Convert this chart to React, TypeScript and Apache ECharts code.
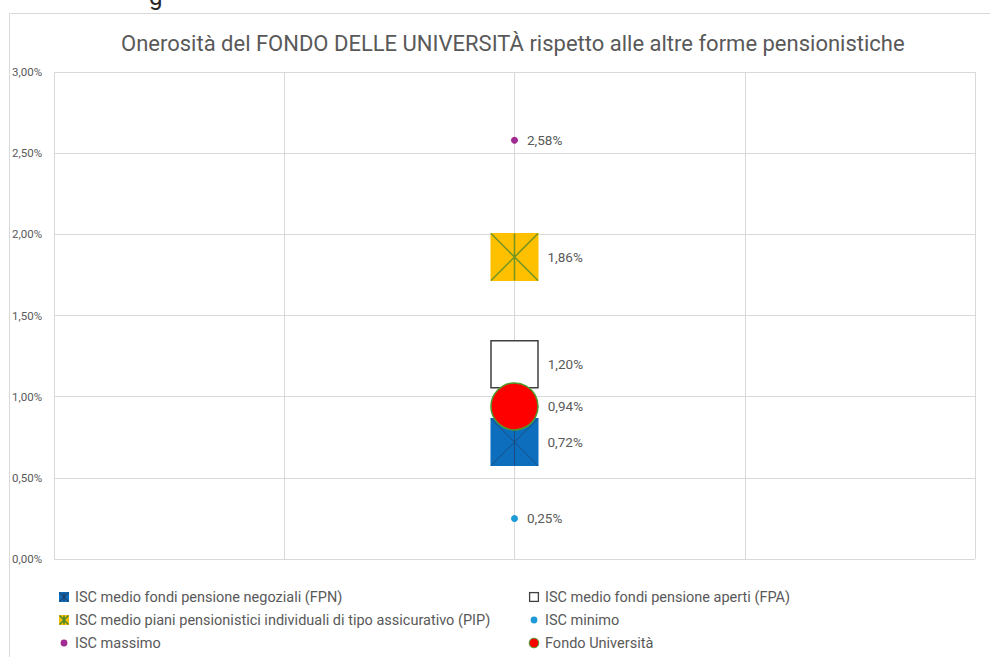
import React, { useEffect, useRef } from "react";
import * as echarts from "echarts";

const titleText = "Onerosità del FONDO DELLE UNIVERSITÀ rispetto alle altre forme pensionistiche";
const seriesNames = [
  "ISC medio fondi pensione negoziali (FPN)",
  "ISC medio fondi pensione aperti (FPA)",
  "ISC medio piani pensionistici individuali di tipo assicurativo (PIP)",
  "ISC minimo",
  "ISC massimo",
  "Fondo Università",
];
const seriesValues = [0.72, 1.2, 1.86, 0.25, 2.58, 0.94];
const xPosition = 2;
const yTicks = [0, 0.5, 1, 1.5, 2, 2.5, 3];
const legendLeftNames = [seriesNames[0], seriesNames[2], seriesNames[4]];
const legendRightNames = [seriesNames[1], seriesNames[3], seriesNames[5]];

const fmt = (v: number) => v.toFixed(2).replace(".", ",") + "%";

const svgIcon = (body: string) =>
  "image://data:image/svg+xml;utf8," +
  encodeURIComponent(
    `<svg xmlns='http://www.w3.org/2000/svg' width='12' height='12' viewBox='0 0 12 12'>${body}</svg>`
  );

const icons: Record<string, string> = {
  [seriesNames[0]]: svgIcon(
    "<rect x='1' y='1' width='10' height='10' fill='#0E6EBE'/><path d='M1.5 1.5L10.5 10.5M10.5 1.5L1.5 10.5M6 1.5V10.5' stroke='#1F4470' stroke-width='1.2'/>"
  ),
  [seriesNames[1]]: svgIcon(
    "<rect x='1.6' y='1.6' width='8.8' height='8.8' fill='#fff' stroke='#404040' stroke-width='1.3'/>"
  ),
  [seriesNames[2]]: svgIcon(
    "<rect x='1' y='1' width='10' height='10' fill='#FFC000'/><path d='M1.5 1.5L10.5 10.5M10.5 1.5L1.5 10.5M6 1.5V10.5' stroke='#4E8A2A' stroke-width='1.6'/>"
  ),
  [seriesNames[3]]: svgIcon("<circle cx='6' cy='6' r='3.4' fill='#1E9BD7'/>"),
  [seriesNames[4]]: svgIcon("<circle cx='6' cy='6' r='3.4' fill='#A02B93'/>"),
  [seriesNames[5]]: svgIcon("<circle cx='6' cy='6' r='4.8' fill='#FF0000' stroke='#4E9A2A' stroke-width='1'/>"),
};

const starPath = "path://M0 0L10 10M10 0L0 10M5 0L5 10";

export default function App() {
  const ref = useRef<HTMLDivElement>(null);
  useEffect(() => {
    if (!ref.current) return;
    const chart = echarts.init(ref.current, null, { renderer: "svg" });
    const labelBase = {
      show: true,
      position: "right",
      color: "#595959",
      fontSize: 13.5,
      fontFamily: "Roboto",
      formatter: (p: any) => fmt(p.value[1]),
    };
    const pt = (i: number) => [[xPosition, seriesValues[i]]];
    const styles = [
      { symbol: "rect", size: 48, color: "#0E6EBE", border: "#0E6EBE", bw: 0, z: 2 },
      { symbol: "rect", size: 47, color: "#FFFFFF", border: "#404040", bw: 1.5, z: 3 },
      { symbol: "rect", size: 48, color: "#FFC000", border: "#FFC000", bw: 0, z: 4 },
      { symbol: "circle", size: 7, color: "#1E9BD7", border: "#1E9BD7", bw: 0, z: 5 },
      { symbol: "circle", size: 7, color: "#A02B93", border: "#A02B93", bw: 0, z: 6 },
      { symbol: "circle", size: 47, color: "#FF0000", border: "#4E9A2A", bw: 1.5, z: 8 },
    ];
    const series: any[] = seriesNames.map((name, i) => ({
      name,
      type: "scatter",
      data: pt(i),
      symbol: styles[i].symbol,
      symbolSize: styles[i].size,
      z: styles[i].z,
      itemStyle: { color: styles[i].color, borderColor: styles[i].border, borderWidth: styles[i].bw, opacity: 1 },
      label: { ...labelBase, distance: 9 },
      emphasis: { disabled: true },
    }));
    series.push({
      name: "FPN-star",
      type: "scatter",
      data: pt(0),
      symbol: starPath,
      symbolSize: 47,
      z: 2.5,
      itemStyle: { color: "none", borderColor: "#1F4470", borderWidth: 1 },
      silent: true,
    });
    series.push({
      name: "PIP-star",
      type: "scatter",
      data: pt(2),
      symbol: starPath,
      symbolSize: 47,
      z: 4.5,
      itemStyle: { color: "none", borderColor: "#4E8A2A", borderWidth: 1.5 },
      silent: true,
    });
    const legendCommon = {
      orient: "vertical",
      itemWidth: 12,
      itemHeight: 12,
      itemGap: 7,
      padding: 0,
      height: 70,
      selectedMode: false,
      textStyle: { color: "#595959", fontSize: 14.5, fontFamily: "Roboto", lineHeight: 16 },
    };
    chart.setOption({
      animation: false,
      backgroundColor: "#ffffff",
      title: {
        text: titleText,
        left: 116,
        top: 27,
        textStyle: { color: "#595959", fontSize: 22, fontWeight: "normal", fontFamily: "Roboto" },
      },
      grid: { left: 54, right: 15, top: 72, bottom: 98, containLabel: false },
      xAxis: {
        type: "value",
        min: 0,
        max: 4,
        interval: 1,
        axisLabel: { show: false },
        axisTick: { show: false },
        axisLine: { show: false },
        splitLine: { show: true, lineStyle: { color: "#D9D9D9", width: 1 } },
      },
      yAxis: {
        type: "value",
        min: yTicks[0],
        max: yTicks[yTicks.length - 1],
        interval: 0.5,
        axisLabel: {
          color: "#595959",
          fontSize: 11.5,
          fontFamily: "Roboto",
          align: "left",
          margin: 42,
          formatter: (v: number) => fmt(v),
        },
        axisTick: { show: false },
        axisLine: { show: false },
        splitLine: { show: true, lineStyle: { color: "#D9D9D9", width: 1 } },
      },
      legend: [
        {
          ...legendCommon,
          left: 58,
          top: 589,
          data: legendLeftNames.map((n) => ({ name: n, icon: icons[n] })),
        },
        {
          ...legendCommon,
          left: 528,
          top: 589,
          data: legendRightNames.map((n) => ({ name: n, icon: icons[n] })),
        },
      ],
      graphic: [
        {
          type: "rect",
          silent: true,
          z: -10,
          shape: { x: 9.5, y: 13.5, width: 1000, height: 700 },
          style: { fill: "none", stroke: "#D9D9D9", lineWidth: 1 },
        },
        {
          type: "text",
          silent: true,
          x: 149,
          y: -15,
          style: { text: "g", fontSize: 24, fill: "#262626", fontFamily: "Roboto" },
        },
      ],
      series,
    });
    return () => chart.dispose();
  }, []);
  return <div ref={ref} style={{ position: "absolute", left: 0, top: 0, width: 990, height: 657 }} />;
}
